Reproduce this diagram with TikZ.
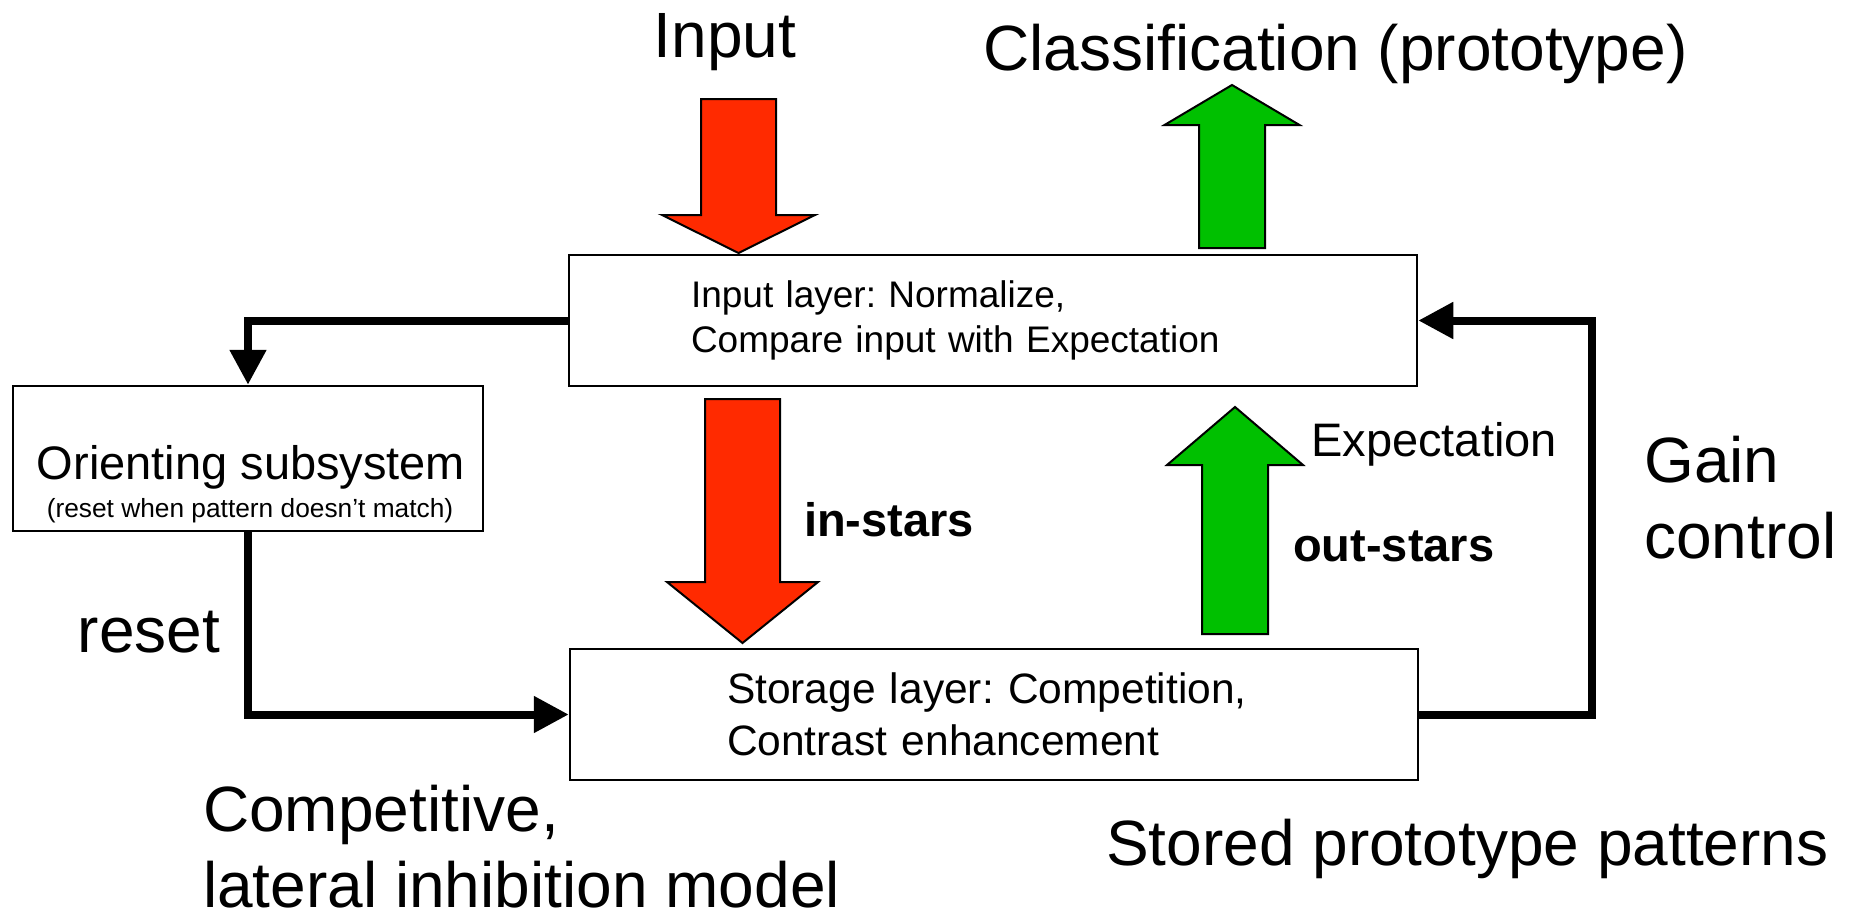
\documentclass[tikz,border=0pt]{standalone}
\usepackage{fontspec}
\setmainfont{Liberation Sans}
\usetikzlibrary{arrows.meta}

\definecolor{inred}{RGB}{255,42,0}
\definecolor{outgreen}{RGB}{0,192,0}

\tikzset{
  layer/.style={draw, line width=2.5pt, minimum width=848pt, minimum height=131pt, inner ysep=0pt, align=left},
  block/.style={draw, line width=2pt, line join=miter},
  big/.style={font=\fontsize{64}{75.5}\selectfont, inner sep=0pt, align=left},
  mid/.style={font=\fontsize{47}{56}\selectfont, inner sep=0pt},
  feedback/.style={line width=8pt, -{Triangle[length=35pt,width=35pt]}}
}

% colour, x, tail, head base, tip, half shaft, half head
\newcommand{\blockarrow}[7]{%
  \draw[block, fill=#1] ({#2-#6},#3) -- ({#2+#6},#3) -- ({#2+#6},#4) -- ({#2+#7},#4)
    -- (#2,#5) -- ({#2-#7},#4) -- ({#2-#6},#4) -- cycle;}

\begin{document}
\frenchspacing
\begin{tikzpicture}[x=1pt, y=-1pt]
  \useasboundingbox (0,0) rectangle (1851,921);

  \node[layer, font=\fontsize{37}{45}\selectfont, text width=604pt, inner xsep=122pt]
    (inlayer) at (993,320.5) {Input layer: Normalize,\\Compare input with Expectation};
  \node[layer, font=\fontsize{42.5}{52}\selectfont, text width=534pt, inner xsep=157pt]
    (store) at (994,714.5) {Storage layer: Competition,\\Contrast enhancement};
  \node[draw, line width=2.5pt, minimum width=470pt, minimum height=145pt] (orient) at (248,458.5) {};
  \node[mid, anchor=base] (orientname) at (251,479) {Orienting subsystem};
  \node[inner sep=0pt, font=\fontsize{26.3}{30}\selectfont, anchor=base] (orientnote) at (250,517)
    {(reset when pattern doesn't match)};

  \blockarrow{inred}{738.5}{99}{215}{253}{37.5}{76.5}
  \blockarrow{outgreen}{1232}{248}{125}{85}{33}{67.5}
  \blockarrow{inred}{742.5}{399}{582}{643}{37.5}{75.5}
  \blockarrow{outgreen}{1235}{634}{465}{407}{33}{68}

  \draw[feedback] (inlayer.west) -| (orient.north);
  \draw[feedback] (orient.south) |- (store.west);
  \draw[feedback] (store.east) -- ++(173,0) |- (inlayer.east);

  \node[big, anchor=base] (input) at (725,57) {Input};
  \node[big, anchor=base west] (classif) at (983,70) {Classification (prototype)};
  \node[mid, anchor=base west] (expect) at (1311,456) {Expectation};
  \node[mid, anchor=base west, font=\fontsize{47}{56}\selectfont\bfseries] (instars) at (804,536) {in-stars};
  \node[mid, anchor=base west, font=\fontsize{47}{56}\selectfont\bfseries] (outstars) at (1293,561) {out-stars};
  \node[big, anchor=base west] (gain) at (1644,558) {Gain\\control};
  \node[big, anchor=base] (reset) at (149,652) {reset};
  \node[big, anchor=base west] (compet) at (203,907) {Competitive,\\lateral inhibition model};
  \node[big, anchor=base west] (stored) at (1106,865) {Stored prototype patterns};
\end{tikzpicture}
\end{document}
